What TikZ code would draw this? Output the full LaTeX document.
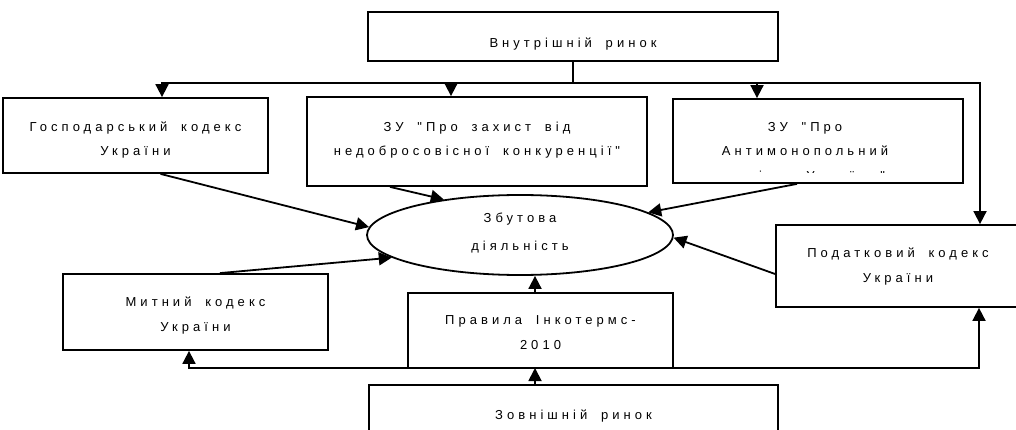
\documentclass[tikz,border=0pt]{standalone}
\usepackage{fontspec}
\newfontfamily\boxfont[LetterSpace=31,WordSpace=1.8]{Liberation Sans}
\usetikzlibrary{arrows.meta,shapes.geometric}

\begin{document}
\begin{tikzpicture}[x=1pt,y=-1pt,
  box/.style={draw, rectangle, line width=1.8pt, inner sep=0pt, align=center,
    font=\boxfont\fontsize{13pt}{24.5pt}\selectfont},
  link/.style={line width=1.8pt},
  arr/.style={line width=1.8pt,-{Triangle[length=13pt,width=13pt]}}]
\useasboundingbox (0,0) rectangle (1016,430);
\clip (0,0) rectangle (1016,430);

\node[box, minimum width=410pt, minimum height=49pt, text height=22pt, text depth=0pt] (inner) at (573,36.5) {Внутрішній ринок};
\node[box, minimum width=265pt, minimum height=75pt, text height=41pt, text depth=0pt] (gosp) at (135.5,135.5) {Господарський кодекс\\України};
\node[box, minimum width=340pt, minimum height=89pt, text height=29pt, text depth=0pt] (zaxyst) at (477,141.5) {ЗУ "Про захист від\\недобросовісної конкуренції"};
\begin{scope}
\clip (673,99) rectangle (963,173);
\node[box, draw=none, text height=79pt, text depth=0pt] (antymontxt) at (805,141) {ЗУ "Про\\Антимонопольний\\комітет України"};
\end{scope}
\node[box, minimum width=290pt, minimum height=84pt] (antymon) at (818,141) {};
\node[box, minimum width=244pt, minimum height=82pt, text height=32pt, text depth=0pt] (podatk) at (898,266) {Податковий кодекс\\України};
\node[box, minimum width=265pt, minimum height=76pt, text height=38pt, text depth=0pt] (mytn) at (195.5,312) {Митний кодекс\\України};
\node[box, minimum width=265pt, minimum height=75pt, text height=37pt, text depth=0pt] (inco) at (540.5,330.5) {Правила Інкотермс-\\2010};
\node[box, minimum width=409pt, minimum height=49pt, text height=20pt, text depth=0pt] (zovn) at (573.5,409.5) {Зовнішній ринок};
\node[box, ellipse, minimum width=306pt, minimum height=80pt, text height=31pt, text depth=0pt] (sales) at (520,235) {Збутова\\[3.5pt]діяльність};

\coordinate (topbus) at (573,83);
\coordinate (botbus) at (535,368);

\draw[link] (inner.south) -- (topbus);
\draw[arr] (topbus) -| ([xshift=26.5pt]gosp.north);
\draw[arr] (topbus) -| ([xshift=-26pt]zaxyst.north);
\draw[arr] (topbus) -| ([xshift=-61pt]antymon.north);
\draw[arr] (topbus) -| ([xshift=82pt]podatk.north);

\draw[arr] ([xshift=25pt]gosp.south) -- (sales.177);
\draw[arr] ([xshift=-87pt]zaxyst.south) -- (sales.155);
\draw[arr] ([xshift=-21pt]antymon.south) -- (sales.10);
\draw[arr] ([yshift=-8pt]podatk.west) -- (sales.359);
\draw[arr] ([xshift=24.5pt]mytn.north) -- (sales.190);
\draw[arr] ([xshift=-5.5pt]inco.north) -- ([xshift=15pt]sales.south);

\draw[arr] ([xshift=-38.5pt]zovn.north) -- (botbus);
\draw[arr] (botbus) -| ([xshift=-6.5pt]mytn.south);
\draw[arr] (botbus) -| ([xshift=81pt]podatk.south);
\end{tikzpicture}
\end{document}
